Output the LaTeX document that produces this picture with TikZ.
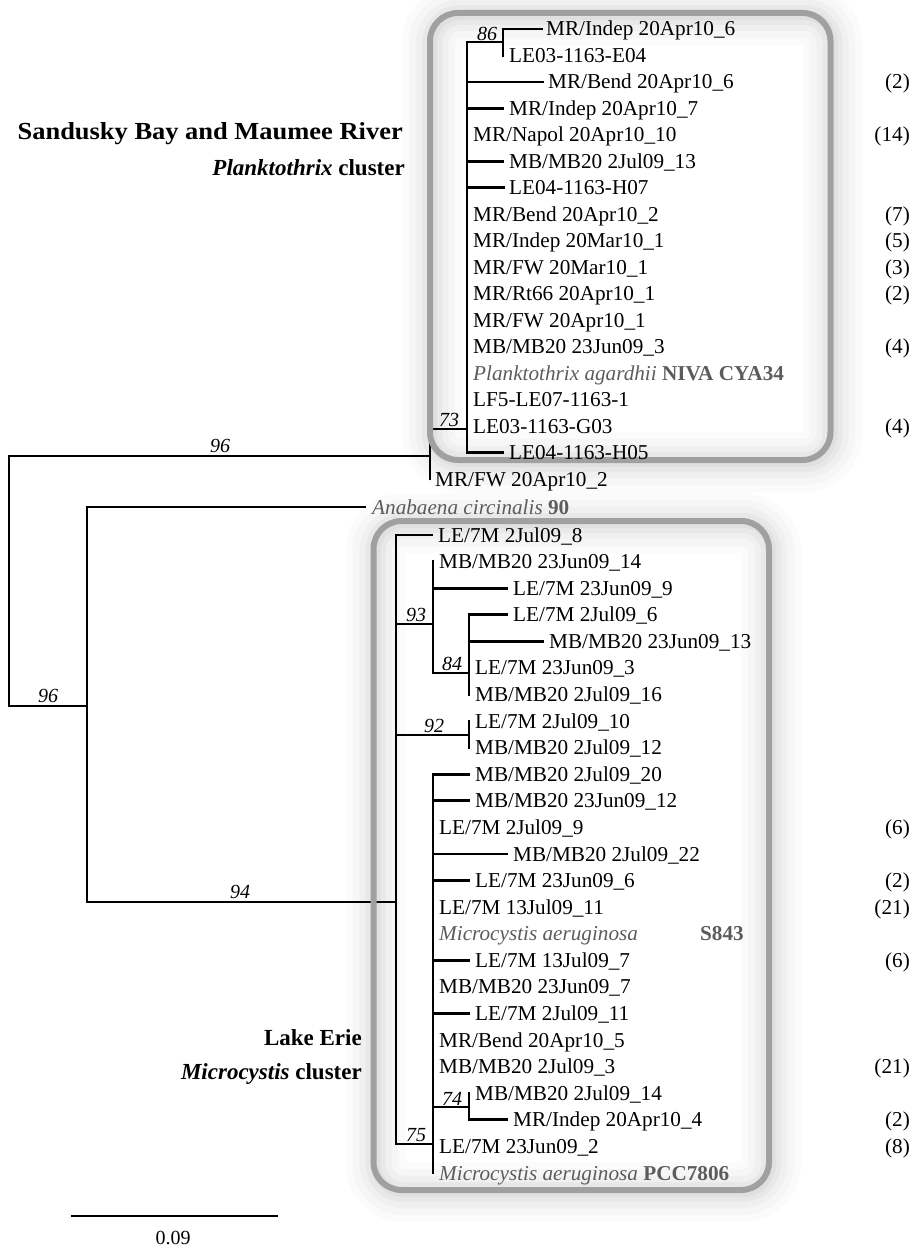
\documentclass[tikz,border=0pt]{standalone}
\usepackage{fontspec}
\setmainfont{Liberation Serif}
\definecolor{boxgray}{HTML}{A0A0A0}
\definecolor{spgray}{HTML}{5C5C5C}
\tikzset{
  br/.style={line width=2.7pt, line cap=rect, black},
  lf/.style={anchor=base west, inner sep=0pt, yshift=-7pt, font=\fontsize{21.2}{25}\selectfont},
  cnt/.style={anchor=base east, inner sep=0pt, yshift=-7pt, font=\fontsize{21.2}{25}\selectfont},
  bs/.style={inner sep=0pt, anchor=center, font=\fontsize{20}{24}\selectfont\itshape},
  grp/.style={anchor=base east, inner sep=0pt, yshift=-7.6pt, font=\fontsize{23}{28}\selectfont\bfseries},
  grpw/.style={anchor=base east, inner sep=0pt, yshift=-8pt, font=\fontsize{24.5}{28}\selectfont\bfseries\addfontfeature{FakeStretch=1.08}},
  frame/.style={boxgray, line width=6pt, rounded corners=28pt},
}
\begin{document}
\begin{tikzpicture}[x=1pt,y=-1pt]
\useasboundingbox (0,0) rectangle (920,1249);
% soft glow around the boxes
\foreach \w/\o in {60pt/0.016, 46pt/0.02, 32pt/0.025, 20pt/0.03, 10pt/0.035}{
  \draw[line width=\w, black, opacity=\o, rounded corners=28pt] (432,15) rectangle (832.5,462);
  \draw[line width=\w, black, opacity=\o, rounded corners=28pt] (375.5,523) rectangle (771,1192);
}
% ---------- internal tree nodes ----------
\coordinate (root) at (9,456);
\coordinate (n96b) at (87,706);
\coordinate (n73) at (430,429);
\coordinate (n86) at (503,42);
\coordinate (n94) at (396,902);
% root and outgroup
\draw[br] (root) -- (430,456);
\draw[br] (root) -- (9,706) -- (n96b);
\draw[br] (87,507) -- (87,902);
\draw[br] (87,507) -- (365,507);
\draw[br] (87,902) -- (n94);
% ---------- top clade ----------
\draw[br] (n73) -- (430,479);
\draw[br] (n73) -- (467,429);
\draw[br] (467,42) -- (467,452.5) -- (503,452.5);
\draw[br] (467,42) -- (n86);
\draw[br] (503,29) -- (503,55.5);
\draw[br] (503,29) -- (542,29);
\draw[br] (467,82) -- (543,82);
\draw[br] (467,108.4) -- (503,108.4);
\draw[br] (467,161.4) -- (503,161.4);
\draw[br] (467,187.8) -- (504,187.8);
% ---------- bottom clade ----------
\draw[br] (396,535) -- (396,1144);
\draw[br] (396,535) -- (432,535);
\draw[br] (396,624) -- (433,624);
\draw[br] (433,561.6) -- (433,673);
\draw[br] (433,588.2) -- (507,588.2);
\draw[br] (433,673) -- (469,673);
\draw[br] (469,614.7) -- (469,694.5);
\draw[br] (469,614.7) -- (507,614.7);
\draw[br] (469,641.3) -- (543,641.3);
\draw[br] (396,735) -- (469,735);
\draw[br] (469,721.1) -- (469,747.6);
\draw[br] (396,1144) -- (433,1144);
\draw[br] (433,774.2) -- (433,1173);
\draw[br] (433,774.2) -- (469,774.2);
\draw[br] (433,800.8) -- (469,800.8);
\draw[br] (433,854) -- (507,854);
\draw[br] (433,880.5) -- (469,880.5);
\draw[br] (433,960.3) -- (469,960.3);
\draw[br] (433,1013.4) -- (469,1013.4);
\draw[br] (433,1107) -- (469,1107);
\draw[br] (469,1093.2) -- (469,1119.8);
\draw[br] (469,1119.8) -- (507,1119.8);
% ---------- frames ----------
\draw[frame] (430,13) rectangle (830.5,460);
\draw[frame] (373.5,521) rectangle (769,1190);
% ---------- bootstrap values ----------
\node[bs] (b86) at (487,33.5) {86};
\node[bs] (b73) at (449,420) {73};
\node[bs] (b96a) at (220,446) {96};
\node[bs] (b96b) at (48,696) {96};
\node[bs] (b94) at (240,892) {94};
\node[bs] (b93) at (416,615) {93};
\node[bs] (b84) at (452,664) {84};
\node[bs] (b92) at (434,726) {92};
\node[bs] (b74) at (452,1099) {74};
\node[bs] (b75) at (416,1135) {75};
% ---------- top leaves ----------
\node[lf] (t1) at (546,29) {MR/Indep 20Apr10\_6};
\node[lf] (t2) at (509,55.5) {LE03-1163-E04};
\node[lf] (t3) at (548,82) {MR/Bend 20Apr10\_6};
\node[lf] (t4) at (509,108.4) {MR/Indep 20Apr10\_7};
\node[lf] (t5) at (473,134.9) {MR/Napol 20Apr10\_10};
\node[lf] (t6) at (509,161.4) {MB/MB20 2Jul09\_13};
\node[lf] (t7) at (509,187.8) {LE04-1163-H07};
\node[lf] (t8) at (473,214.3) {MR/Bend 20Apr10\_2};
\node[lf] (t9) at (473,240.8) {MR/Indep 20Mar10\_1};
\node[lf] (t10) at (473,267.2) {MR/FW 20Mar10\_1};
\node[lf] (t11) at (473,293.7) {MR/Rt66 20Apr10\_1};
\node[lf] (t12) at (473,320.2) {MR/FW 20Apr10\_1};
\node[lf] (t13) at (473,346.6) {MB/MB20 23Jun09\_3};
\node[lf, text=spgray] (t14) at (473,373.1) {\textit{Planktothrix agardhii} \textbf{NIVA CYA34}};
\node[lf] (t15) at (473,399.6) {LF5-LE07-1163-1};
\node[lf] (t16) at (473,426) {LE03-1163-G03};
\node[lf] (t17) at (509,452.5) {LE04-1163-H05};
\node[lf] (t18) at (435,479) {MR/FW 20Apr10\_2};
\node[lf, text=spgray] (ana) at (372,507) {\textit{Anabaena circinalis} \textbf{90}};
% counts top
\node[cnt] at (910,82) {(2)};
\node[cnt] at (910,134.9) {(14)};
\node[cnt] at (910,214.3) {(7)};
\node[cnt] at (910,240.8) {(5)};
\node[cnt] at (910,267.2) {(3)};
\node[cnt] at (910,293.7) {(2)};
\node[cnt] at (910,346.6) {(4)};
\node[cnt] at (910,426) {(4)};
% ---------- bottom leaves ----------
\node[lf] (c1) at (438,535) {LE/7M 2Jul09\_8};
\node[lf] (c2) at (439,561.6) {MB/MB20 23Jun09\_14};
\node[lf] (c3) at (513,588.2) {LE/7M 23Jun09\_9};
\node[lf] (c4) at (513,614.7) {LE/7M 2Jul09\_6};
\node[lf] (c5) at (549,641.3) {MB/MB20 23Jun09\_13};
\node[lf] (c6) at (475,667.9) {LE/7M 23Jun09\_3};
\node[lf] (c7) at (475,694.5) {MB/MB20 2Jul09\_16};
\node[lf] (c8) at (475,721.1) {LE/7M 2Jul09\_10};
\node[lf] (c9) at (475,747.6) {MB/MB20 2Jul09\_12};
\node[lf] (c10) at (475,774.2) {MB/MB20 2Jul09\_20};
\node[lf] (c11) at (475,800.8) {MB/MB20 23Jun09\_12};
\node[lf] (c12) at (439,827.4) {LE/7M 2Jul09\_9};
\node[lf] (c13) at (513,854) {MB/MB20 2Jul09\_22};
\node[lf] (c14) at (475,880.5) {LE/7M 23Jun09\_6};
\node[lf] (c15) at (439,907.1) {LE/7M 13Jul09\_11};
\node[lf, text=spgray] (c16) at (439,933.7) {\textit{Microcystis aeruginosa}};
\node[lf, text=spgray, font=\fontsize{21.2}{25}\selectfont\bfseries] (c16b) at (700,933.7) {S843};
\node[lf] (c17) at (475,960.3) {LE/7M 13Jul09\_7};
\node[lf] (c18) at (439,986.9) {MB/MB20 23Jun09\_7};
\node[lf] (c19) at (475,1013.4) {LE/7M 2Jul09\_11};
\node[lf] (c20) at (439,1040) {MR/Bend 20Apr10\_5};
\node[lf] (c21) at (439,1066.6) {MB/MB20 2Jul09\_3};
\node[lf] (c22) at (475,1093.2) {MB/MB20 2Jul09\_14};
\node[lf] (c23) at (513,1119.8) {MR/Indep 20Apr10\_4};
\node[lf] (c24) at (439,1146.3) {LE/7M 23Jun09\_2};
\node[lf, text=spgray] (c25) at (439,1173) {\textit{Microcystis aeruginosa} \textbf{PCC7806}};
% counts bottom
\node[cnt] at (910,827.4) {(6)};
\node[cnt] at (910,880.5) {(2)};
\node[cnt] at (910,907.1) {(21)};
\node[cnt] at (910,960.3) {(6)};
\node[cnt] at (910,1066.6) {(21)};
\node[cnt] at (910,1119.8) {(2)};
\node[cnt] at (910,1146.3) {(8)};
% ---------- group labels ----------
\node[grpw] (g1) at (403,132) {Sandusky Bay and Maumee River};
\node[grp] (g2) at (405,168) {\textit{Planktothrix} cluster};
\node[grp] (g3) at (362,1038) {Lake Erie};
\node[grp] (g4) at (362,1072) {\textit{Microcystis} cluster};
% ---------- scale bar ----------
\coordinate (sb1) at (71,1216);
\coordinate (sb2) at (278,1216);
\draw[br, line cap=butt] (sb1) -- (sb2);
\node[inner sep=0pt, font=\fontsize{20}{24}\selectfont] (sbl) at (173,1238) {0.09};
\end{tikzpicture}
\end{document}
